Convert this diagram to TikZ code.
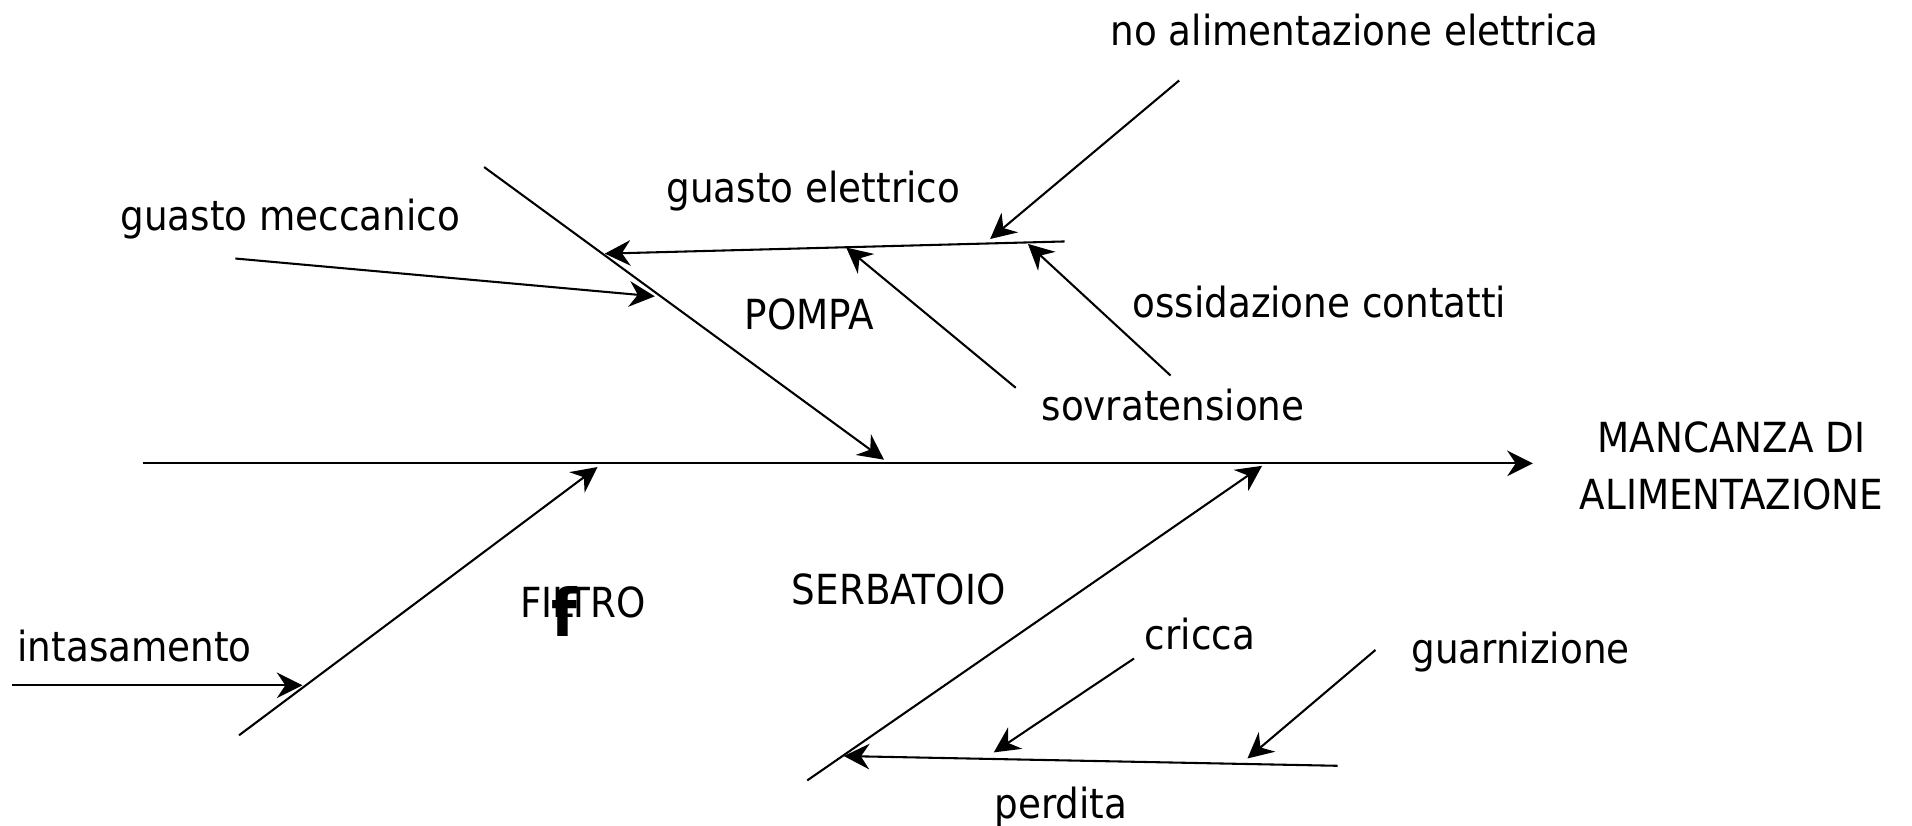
\documentclass[tikz,border=0pt]{standalone}
\usepackage{fontspec}
\setmainfont{DejaVu Sans Condensed}
\usetikzlibrary{arrows.meta}
\begin{document}
\begin{tikzpicture}[x=0.5pt,y=-0.5pt,
  lbl/.style={inner sep=0pt,font=\fontsize{17}{23.5}\selectfont},
  arr/.style={line width=0.85pt,black,-{Stealth[length=10.5pt,width=10.5pt,inset=3.5pt]}}]
\useasboundingbox (0,0) rectangle (1568,676.6);
% main spine
\coordinate (s0) at (117,380);
\coordinate (s1) at (1257,380);
\node[lbl,align=center] (eff) at (1420,382) {MANCANZA DI\\ALIMENTAZIONE};
\draw[arr] (s0) -- (s1);
% POMPA
\coordinate (p0) at (397,137);
\coordinate (p1) at (725,377);
\draw[arr] (p0) -- (p1);
\node[lbl] (pompa) at (664,258) {POMPA};
\coordinate (ge0) at (873,198);
\coordinate (ge1) at (496,208);
\draw[arr] (ge0) -- (ge1);
\node[lbl] (gel) at (667,157) {guasto elettrico};
\coordinate (na0) at (967,66);
\coordinate (na1) at (812,196);
\draw[arr] (na0) -- (na1);
\node[lbl] (nal) at (1111,25) {no alimentazione elettrica};
\coordinate (oc0) at (960,308);
\coordinate (oc1) at (843,200);
\draw[arr] (oc0) -- (oc1);
\node[lbl] (ocl) at (1082,248) {ossidazione contatti};
\coordinate (sv0) at (833,318);
\coordinate (sv1) at (694,203);
\draw[arr] (sv0) -- (sv1);
\node[lbl] (svl) at (962,332) {sovratensione};
\coordinate (gm0) at (193,212);
\coordinate (gm1) at (537,243);
\draw[arr] (gm0) -- (gm1);
\node[lbl] (gml) at (238,180) {guasto meccanico};
% FILTRO
\coordinate (f0) at (196,603);
\coordinate (f1) at (490,383);
\draw[arr] (f0) -- (f1);
\node[lbl] (filtro) at (478,494) {FILTRO};
\node[inner sep=0pt,anchor=base west,font=\fontsize{27}{27}\selectfont\bfseries] (fx) at (452,522) {f};
\coordinate (in0) at (10,562);
\coordinate (in1) at (248,562);
\draw[arr] (in0) -- (in1);
\node[lbl,anchor=west] (inl) at (14,530) {intasamento};
% SERBATOIO
\coordinate (sb0) at (662,640);
\coordinate (sb1) at (1035,382);
\draw[arr] (sb0) -- (sb1);
\node[lbl] (sbl) at (737,483) {SERBATOIO};
\coordinate (pd0) at (1097,628);
\coordinate (pd1) at (692,620);
\draw[arr] (pd0) -- (pd1);
\node[lbl] (pdl) at (870,662) {perdita};
\coordinate (cr0) at (930,540);
\coordinate (cr1) at (815,617);
\draw[arr] (cr0) -- (cr1);
\node[lbl] (crl) at (984,520) {cricca};
\coordinate (gu0) at (1128,533);
\coordinate (gu1) at (1023,622);
\draw[arr] (gu0) -- (gu1);
\node[lbl] (gul) at (1247,535) {guarnizione};
\end{tikzpicture}
\end{document}
